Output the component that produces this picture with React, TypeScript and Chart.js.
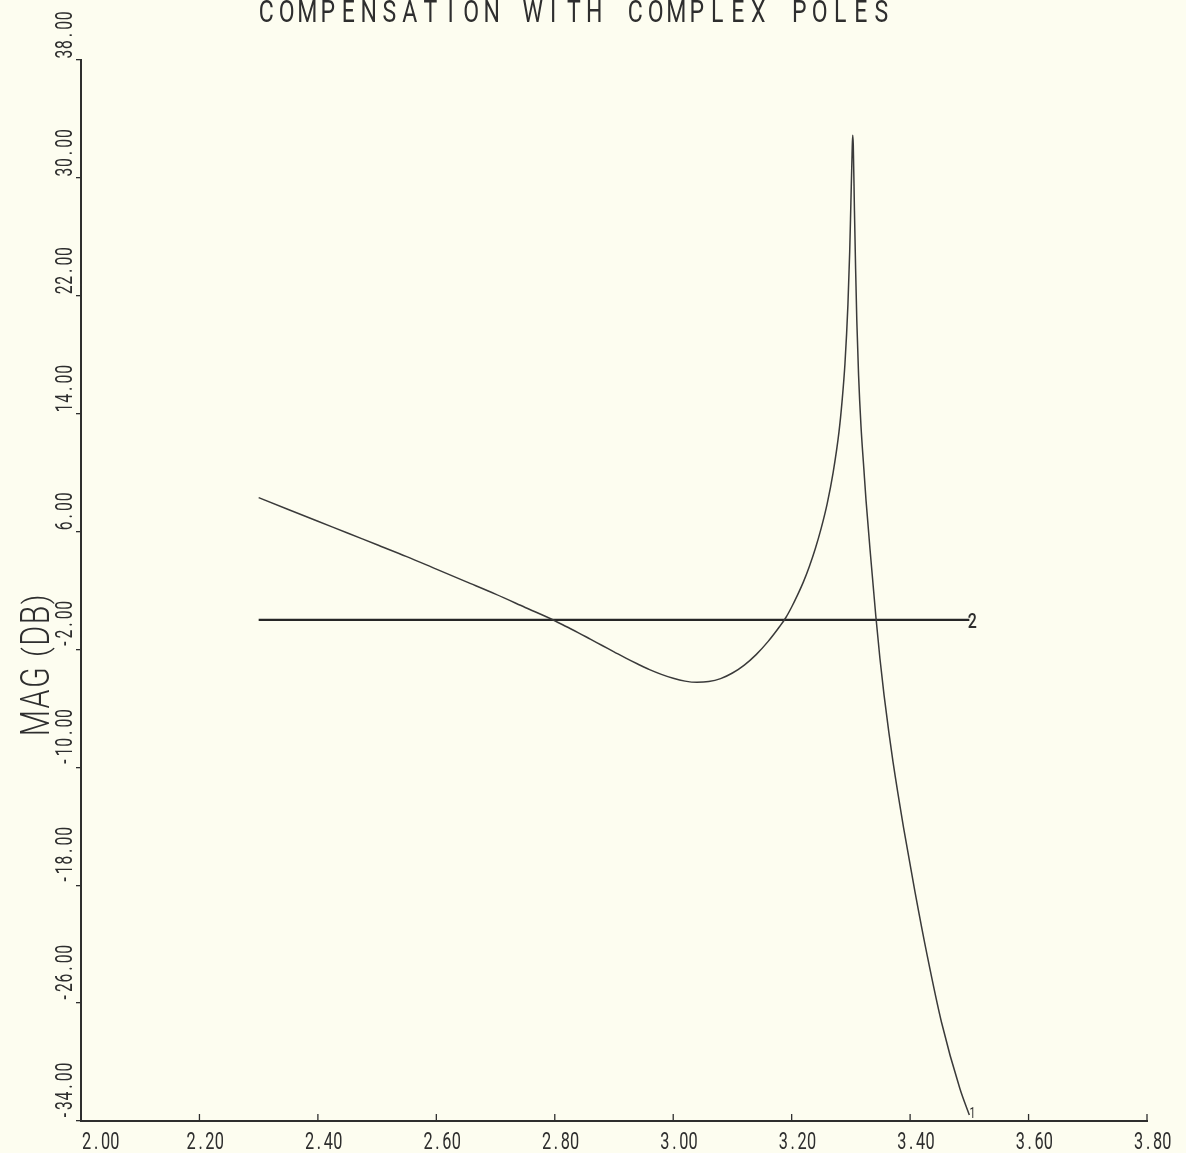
import React, { useEffect, useRef } from "react";
import { Chart, registerables } from "chart.js";

Chart.register(...registerables);

const TITLE = "COMPENSATION WITH COMPLEX POLES";
const Y_TITLE = "MAG (DB)";

const X_MIN = 2.0;
const X_MAX = 3.8;
const X_STEP = 0.2;
const Y_MIN = -34;
const Y_MAX = 38;
const Y_STEP = 8;

// Curve 1 (compensated magnitude, dB)
const FREQ_1 = [
  2.3, 2.35, 2.4, 2.45, 2.5, 2.55, 2.6, 2.65, 2.7, 2.75, 2.8, 2.82, 2.84, 2.86,
  2.88, 2.9, 2.92, 2.94, 2.96, 2.98, 3.0, 3.02, 3.04, 3.06, 3.08, 3.1, 3.12,
  3.14, 3.16, 3.18, 3.19, 3.2, 3.21, 3.22, 3.23, 3.24, 3.25, 3.26, 3.27, 3.28,
  3.285, 3.29, 3.295, 3.298, 3.3, 3.302, 3.303, 3.304, 3.306, 3.308, 3.31,
  3.313, 3.317, 3.322, 3.3256, 3.334, 3.342, 3.349, 3.356, 3.364, 3.371, 3.389,
  3.408, 3.429, 3.453, 3.484, 3.5,
];
const MAG_1 = [
  8.3, 7.5, 6.7, 5.9, 5.1, 4.3, 3.45, 2.6, 1.75, 0.85, -0.05, -0.46, -0.87,
  -1.3, -1.73, -2.16, -2.59, -2.99, -3.37, -3.69, -3.96, -4.15, -4.23, -4.18,
  -3.98, -3.6, -3.06, -2.35, -1.47, -0.43, 0.15, 0.88, 1.7, 2.6, 3.65, 4.85,
  6.25, 7.9, 10.0, 12.8, 14.8, 17.4, 21.4, 25.0, 28.3, 31.6, 32.9, 32.3, 27.8,
  23.8, 20.3, 16.6, 13.2, 10.2, 8.1, 4.0, 0.3, -2.6, -5.1, -7.6, -9.6, -14.1,
  -18.4, -22.8, -27.3, -31.8, -33.6,
];

// Curve 2 (flat reference, dB)
const FREQ_2 = [2.3, 3.5];
const MAG_2 = [0, 0];

const SERIES_LABELS = ["1", "2"];

const BG = "#fdfdf0";
const INK = "#2e2e2e";
const FONT = "Roboto, 'DejaVu Sans', sans-serif";

// Draws text character by character. If advance > 0 the cells are fixed
// (plotter-like monospace); otherwise the advance is proportional
// (measured width * sx + spacing).
function drawPlotterText(
  ctx: CanvasRenderingContext2D,
  text: string,
  x: number,
  y: number,
  advance: number,
  size: number,
  sx: number,
  angle: number,
  weight = 400,
  spacing = 0
) {
  ctx.save();
  ctx.translate(x, y);
  ctx.rotate(angle);
  ctx.font = `${weight} ${size}px ${FONT}`;
  ctx.fillStyle = INK;
  ctx.textAlign = "center";
  ctx.textBaseline = "alphabetic";
  let pos = 0;
  for (let i = 0; i < text.length; i++) {
    const ch = text[i];
    const w = advance > 0 ? advance : ctx.measureText(ch).width * sx + spacing;
    if (ch !== " ") {
      ctx.save();
      ctx.translate(pos + w / 2, 0);
      if (ch === "(" || ch === ")") {
        ctx.translate(0, -size * 0.06);
        ctx.scale(sx, 0.82);
      } else {
        ctx.scale(sx, 1);
      }
      ctx.fillText(ch, 0, 0);
      ctx.restore();
    }
    pos += w;
  }
  ctx.restore();
}

const plotterPlugin = {
  id: "plotter",
  beforeDraw(chart: any) {
    const ctx = chart.ctx as CanvasRenderingContext2D;
    ctx.save();
    ctx.fillStyle = BG;
    ctx.fillRect(0, 0, chart.width, chart.height);
    ctx.restore();
  },
  afterDraw(chart: any) {
    const ctx = chart.ctx as CanvasRenderingContext2D;
    const xs = chart.scales.x;
    const ys = chart.scales.y;
    const area = chart.chartArea;

    // Title
    drawPlotterText(ctx, TITLE, 256, 22, 20.5, 32, 0.72, 0, 400);

    // Y axis title (rotated, reading upward, proportional spacing)
    drawPlotterText(ctx, Y_TITLE, 49, 737, 0, 41, 0.74, -Math.PI / 2, 300, 1.5);

    // Y tick labels
    ys.ticks.forEach((t: any) => {
      const py = ys.getPixelForValue(t.value);
      const label = t.value.toFixed(2);
      drawPlotterText(ctx, label, 72, py - 1, 9.6, 23, 0.68, -Math.PI / 2);
    });

    // X ticks (inward) and labels
    ctx.save();
    ctx.strokeStyle = INK;
    ctx.lineWidth = 1.3;
    xs.ticks.forEach((t: any, i: number) => {
      const px = xs.getPixelForValue(t.value);
      ctx.beginPath();
      ctx.moveTo(px, area.bottom);
      ctx.lineTo(px, area.bottom - 7);
      ctx.stroke();
      const label = t.value.toFixed(2);
      const left = i === 0 ? px + 1 : px - 13;
      drawPlotterText(ctx, label, left, 1149, 9.4, 24, 0.68, 0);
    });
    ctx.restore();

    // Series end labels
    chart.data.datasets.forEach((ds: any, di: number) => {
      const last = ds.data[ds.data.length - 1];
      const px = xs.getPixelForValue(last.x);
      const py = ys.getPixelForValue(last.y);
      if (di === 0) {
        drawPlotterText(ctx, SERIES_LABELS[0], px - 1, py + 3, 8, 15, 0.7, 0);
      } else {
        drawPlotterText(ctx, SERIES_LABELS[1], px - 3, py + 8, 12, 20, 0.8, 0, 500);
      }
    });
  },
};

export default function App() {
  const canvasRef = useRef<HTMLCanvasElement | null>(null);

  useEffect(() => {
    const canvas = canvasRef.current;
    if (!canvas) return;
    const data1 = FREQ_1.map((f, i) => ({ x: f, y: MAG_1[i] }));
    const data2 = FREQ_2.map((f, i) => ({ x: f, y: MAG_2[i] }));

    const chart = new Chart(canvas, {
      type: "line",
      data: {
        datasets: [
          {
            label: SERIES_LABELS[0],
            data: data1,
            borderColor: "#3a3a3a",
            borderWidth: 1.5,
            pointRadius: 0,
            cubicInterpolationMode: "monotone",
            fill: false,
          },
          {
            label: SERIES_LABELS[1],
            data: data2,
            borderColor: "#262626",
            borderWidth: 2.2,
            pointRadius: 0,
            fill: false,
          },
        ],
      },
      options: {
        responsive: false,
        animation: false,
        events: [],
        layout: { padding: { left: 0, top: 60, right: 39, bottom: 0 } },
        plugins: {
          legend: { display: false },
          tooltip: { enabled: false },
          title: { display: false },
        },
        scales: {
          x: {
            type: "linear",
            min: X_MIN,
            max: X_MAX,
            ticks: { display: false, stepSize: X_STEP },
            grid: { display: false },
            border: { display: true, color: INK, width: 2 },
            afterFit: (s: any) => {
              s.height = 32;
            },
          },
          y: {
            type: "linear",
            min: Y_MIN,
            max: Y_MAX,
            ticks: { display: false, stepSize: Y_STEP },
            grid: {
              display: true,
              drawOnChartArea: false,
              drawTicks: true,
              tickLength: 5,
              color: INK,
              lineWidth: 1.3,
            },
            border: { display: true, color: INK, width: 2 },
            afterFit: (s: any) => {
              s.width = 81;
            },
          },
        },
      },
      plugins: [plotterPlugin],
    } as any);

    return () => {
      chart.destroy();
    };
  }, []);

  return (
    <div style={{ position: "absolute", left: 0, top: 0, width: 1186, height: 1153, background: BG }}>
      <canvas ref={canvasRef} width={1186} height={1153} style={{ display: "block" }} />
    </div>
  );
}
